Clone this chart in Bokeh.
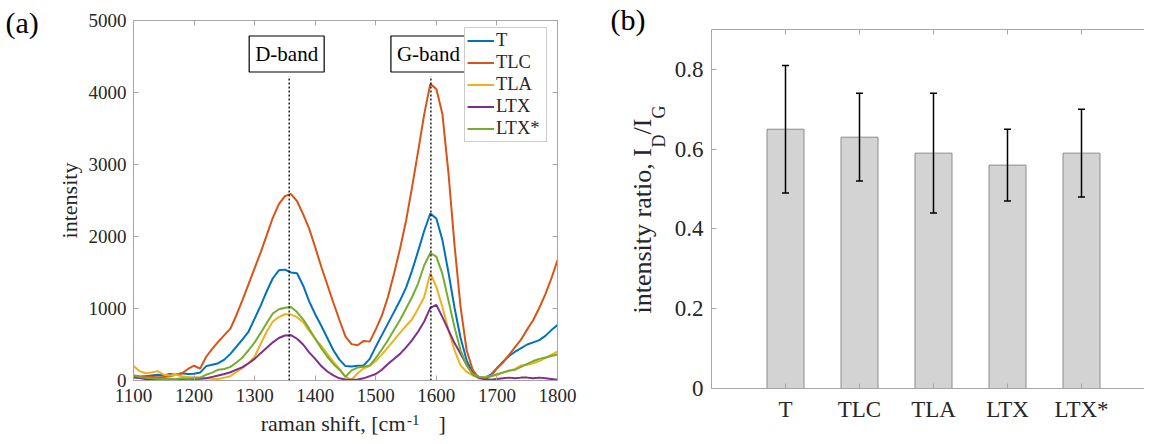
from math import pi
from bokeh.plotting import figure
from bokeh.models import (Range1d, LinearAxis, FixedTicker, Label, Legend, LegendItem,
                          Whisker, ColumnDataSource, TeeHead, NumeralTickFormatter)
from bokeh.layouts import row
from bokeh.embed import file_html
from bokeh.resources import INLINE

# ---------------- data: Raman spectra (panel a) ----------------
raman_shift = list(range(1100, 1801, 10))

T = [60, 50, 60, 70, 80, 70, 90, 80, 100, 90,
     95, 110, 200, 220, 240, 290, 370, 470, 570, 680,
     860, 1040, 1240, 1420, 1530, 1540, 1500, 1490, 1320, 1100,
     920, 760, 590, 420, 290, 200, 195, 205, 210, 300,
     470, 630, 790, 950, 1110, 1290, 1530, 1800, 2080, 2320,
     2250, 1950, 1500, 1010, 590, 280, 110, 50, 40, 80,
     170, 260, 340, 400, 450, 500, 530, 560, 620, 700,
     770]

TLC = [70, 60, 55, 50, 45, 50, 60, 80, 100, 160,
       205, 165, 330, 440, 540, 630, 720, 910, 1120, 1340,
       1560, 1780, 2020, 2260, 2450, 2560, 2590, 2490, 2310, 2110,
       1850, 1580, 1330, 1080, 840, 610, 505, 490, 550, 540,
       710, 900, 1160, 1480, 1830, 2220, 2690, 3190, 3700, 4120,
       4050, 3700, 2880, 1880, 1020, 420, 150, 30, 20, 60,
       170, 250, 355, 465, 570, 710, 840, 1010, 1200, 1420,
       1670]

TLA = [200, 130, 100, 110, 130, 80, 70, 80, 60, 50,
       45, 40, 30, 25, 20, 40, 60, 120, 175, 240,
       330, 510, 680, 820, 880, 920, 915, 880, 810, 690,
       580, 480, 370, 260, 160, 50, 10, 100, 170, 200,
       270, 360, 460, 560, 660, 760, 850, 1000, 1160, 1490,
       1300, 1020, 700, 420, 210, 120, 70, 40, 50, 60,
       90, 110, 130, 160, 210, 220, 240, 270, 310, 360,
       400]

LTX = [40, 35, 20, 15, 20, 15, 20, 15, 20, 15,
       20, 25, 30, 50, 70, 90, 115, 150, 185, 240,
       300, 380, 455, 530, 590, 625, 630, 580, 500, 390,
       300, 200, 125, 70, 30, 15, 10, 15, 30, 60,
       90, 150, 230, 300, 370, 460, 560, 680, 820, 1010,
       1050, 880, 700, 520, 370, 220, 90, 40, 20, 10,
       20, 30, 40, 30, 40, 40, 30, 40, 30, 20,
       10]

LTX_star = [70, 50, 40, 30, 25, 20, 25, 20, 30, 25,
            30, 40, 80, 110, 150, 160, 190, 250, 320, 420,
            530, 660, 800, 930, 990, 1010, 1020, 950, 850, 720,
            580, 450, 330, 230, 150, 50, 140, 180, 190, 210,
            310, 430, 560, 700, 840, 1000, 1160, 1350, 1600, 1770,
            1720, 1480, 1110, 740, 420, 210, 90, 50, 40, 60,
            80, 110, 140, 150, 190, 230, 270, 300, 320, 340,
            360]

series_names = ["T", "TLC", "TLA", "LTX", "LTX*"]
series_values = [T, TLC, TLA, LTX, LTX_star]
series_colors = ["#0072BD", "#D95319", "#EDB120", "#7E2F8E", "#77AC30"]

band_names = ["D-band", "G-band"]
band_pos = [1357, 1591]

x_ticks = [1100, 1200, 1300, 1400, 1500, 1600, 1700, 1800]
y_ticks = [0, 1000, 2000, 3000, 4000, 5000]

# ---------------- data: intensity ratio (panel b) ----------------
samples = ["T", "TLC", "TLA", "LTX", "LTX*"]
ratio = [0.65, 0.63, 0.59, 0.56, 0.59]
ratio_lo = [0.49, 0.52, 0.44, 0.47, 0.48]
ratio_hi = [0.81, 0.74, 0.74, 0.65, 0.70]
ratio_ticks = [0, 0.2, 0.4, 0.6, 0.8]

FONT = "Liberation Serif"
AX = "#a6a6a6"
TXT = "#262626"


def style_axis(ax, size, loc, bounds, show_labels=True, standoff=6, line=True):
    ax.fixed_location = loc
    ax.bounds = bounds
    ax.major_tick_in = 5
    ax.major_tick_out = 0
    ax.minor_tick_line_color = None
    ax.major_tick_line_color = AX
    ax.axis_line_color = AX if line else None
    ax.major_label_text_font = FONT
    ax.major_label_text_font_size = size
    ax.major_label_standoff = standoff
    if show_labels:
        ax.major_label_text_color = TXT
    else:
        ax.major_label_text_color = None
        ax.major_label_text_alpha = 0


# ================= panel (a) =================
# picture layout (px): canvas x 0..600, y 0..436 ; plot box x 133..557, y 20..380
LW, LH = 600, 436
L_X0, L_Y0 = 0, 0             # canvas origin in picture
L_BOX = (133, 20, 557, 380)   # left, top, right, bottom of plot box
lppx = (L_BOX[2] - L_BOX[0]) / (x_ticks[-1] - x_ticks[0])
lppy = (L_BOX[3] - L_BOX[1]) / (y_ticks[-1] - y_ticks[0])


def L_x(px):  # picture px -> data x (panel a)
    return x_ticks[0] + (px - L_BOX[0]) / lppx


def L_y(py):  # picture py -> data y (panel a)
    return y_ticks[0] + (L_BOX[3] - py) / lppy


p1 = figure(width=LW, height=LH,
            x_range=Range1d(L_x(L_X0), L_x(L_X0 + LW)),
            y_range=Range1d(L_y(L_Y0 + LH), L_y(L_Y0)),
            output_backend="svg", toolbar_location=None, min_border=0,
            min_border_left=0, min_border_right=0, min_border_top=0, min_border_bottom=0)
p1.grid.visible = False
p1.outline_line_color = None
p1.xaxis.ticker = FixedTicker(ticks=x_ticks)
p1.yaxis.ticker = FixedTicker(ticks=y_ticks)
xb = (x_ticks[0], x_ticks[-1])
yb = (y_ticks[0], y_ticks[-1])
style_axis(p1.xaxis[0], "19px", y_ticks[0], xb, standoff=8)
style_axis(p1.yaxis[0], "19px", x_ticks[0], yb, standoff=7)
top1 = LinearAxis(ticker=FixedTicker(ticks=x_ticks))
right1 = LinearAxis(ticker=FixedTicker(ticks=y_ticks))
style_axis(top1, "19px", y_ticks[-1], xb, show_labels=False)
style_axis(right1, "19px", x_ticks[-1], yb, show_labels=False)
p1.add_layout(top1, "above")
p1.add_layout(right1, "right")

renderers = []
for name, vals, col in zip(series_names, series_values, series_colors):
    r = p1.line(raman_shift, vals, line_color=col, line_width=2)
    renderers.append((name, r))

p1.segment(x0=band_pos, y0=[0] * len(band_pos), x1=band_pos, y1=[L_y(75.7)] * len(band_pos),
           line_color="black", line_width=1.3, line_dash="2 2")

for name, xbnd in zip(band_names, band_pos):
    p1.add_layout(Label(x=xbnd, y=L_y(53.5), text=name, text_align="center", text_baseline="middle",
                        x_offset=-2.5, text_font=FONT, text_font_size="21px", text_color="black",
                        border_line_color="black", border_line_width=1.2,
                        background_fill_color="white", padding=6))

legend = Legend(items=[LegendItem(label=n, renderers=[r]) for n, r in renderers],
                location=(464 - L_X0, L_Y0 + LH - 142), margin=0, padding=2, spacing=1,
                glyph_width=27, glyph_height=21, label_height=21, label_width=48,
                label_standoff=2, label_text_font=FONT, label_text_font_size="18.5px",
                label_text_color=TXT, border_line_color="#9a9a9a", border_line_width=1,
                background_fill_color="white", background_fill_alpha=1)
p1.add_layout(legend)

p1.add_layout(Label(x=L_x(5), y=L_y(22), text="(a)", text_align="left", text_baseline="alphabetic",
                    text_font=FONT, text_font_size="30px", text_color="black"))
p1.add_layout(Label(x=L_x(69), y=L_y(200), text="intensity", angle=pi / 2, text_align="center",
                    text_baseline="middle", text_font=FONT, text_font_size="22px", text_color=TXT))
p1.add_layout(Label(x=L_x(405), y=L_y(423), text="raman shift, [cm", text_align="right",
                    text_baseline="alphabetic", text_font=FONT, text_font_size="22px", text_color=TXT))
p1.add_layout(Label(x=L_x(406.5), y=L_y(419), text="-1", text_align="left",
                    text_baseline="alphabetic", text_font=FONT, text_font_size="15px", text_color=TXT))
p1.add_layout(Label(x=L_x(438), y=L_y(423), text="]", text_align="left",
                    text_baseline="alphabetic", text_font=FONT, text_font_size="22px", text_color=TXT))

# ================= panel (b) =================
# picture layout (px): canvas x 600..1144, y 0..436 ; plot box left 711, top 29, bottom 388
RW, RH = 544, 436
R_X0, R_Y0 = 600, 0
R_LEFT, R_TOP, R_BOTTOM = 711, 29, 388
pos = [i + 1 for i in range(len(samples))]
R_XMAX = len(samples) + 1          # category axis spans 0 .. n+1
R_YMAX = 0.9
rppx = 74.0                        # px per category step
rppy = (R_BOTTOM - R_TOP) / R_YMAX


def R_x(px):  # picture px -> data x (panel b)
    return (px - R_LEFT) / rppx


def R_y(py):  # picture py -> data y (panel b)
    return (R_BOTTOM - py) / rppy


p2 = figure(width=RW, height=RH,
            x_range=Range1d(R_x(R_X0), R_x(R_X0 + RW)),
            y_range=Range1d(R_y(R_Y0 + RH), R_y(R_Y0)),
            output_backend="svg", toolbar_location=None, min_border=0,
            min_border_left=0, min_border_right=0, min_border_top=0, min_border_bottom=0)
p2.grid.visible = False
p2.outline_line_color = None
p2.xaxis.ticker = FixedTicker(ticks=pos)
p2.xaxis.major_label_overrides = {p: s for p, s in zip(pos, samples)}
p2.yaxis.ticker = FixedTicker(ticks=ratio_ticks)
p2.yaxis.formatter = NumeralTickFormatter(format="0.[0]")
style_axis(p2.xaxis[0], "23px", 0, (0, R_XMAX), standoff=8)
style_axis(p2.yaxis[0], "23px", 0, (0, R_YMAX), standoff=8)
top2 = LinearAxis(ticker=FixedTicker(ticks=pos))
right2 = LinearAxis(ticker=FixedTicker(ticks=ratio_ticks))
style_axis(top2, "23px", R_YMAX, (0, R_XMAX), show_labels=False)
style_axis(right2, "23px", R_XMAX, (0, R_YMAX), show_labels=False)
p2.add_layout(top2, "above")
p2.add_layout(right2, "right")

src = ColumnDataSource(dict(x=pos, top=ratio, lo=ratio_lo, hi=ratio_hi))
p2.vbar(x="x", top="top", width=0.5, bottom=0, source=src,
        fill_color="#d3d3d3", line_color="#8c8c8c", line_width=1)
wh = Whisker(base="x", upper="hi", lower="lo", source=src, line_color="black", line_width=1.5,
             upper_head=TeeHead(size=7, line_width=1.5, line_color="black"),
             lower_head=TeeHead(size=7, line_width=1.5, line_color="black"), level="overlay")
p2.add_layout(wh)

p2.add_layout(Label(x=R_x(610), y=R_y(19), text="(b)", text_align="left", text_baseline="alphabetic",
                    text_font=FONT, text_font_size="30px", text_color="black"))
ylab_parts = [("intensity ratio, I", 642, 313, "26px"), ("D", 658, 147, "18px"),
              ("/I", 642, 134, "26px"), ("G", 658, 118, "18px")]
for txt, px, py, fs in ylab_parts:
    p2.add_layout(Label(x=R_x(px), y=R_y(py), text=txt, angle=pi / 2, text_align="left",
                        text_baseline="alphabetic", text_font=FONT, text_font_size=fs, text_color=TXT))

layout = row(p1, p2)
open("out.html", "w").write(file_html(layout, INLINE))
